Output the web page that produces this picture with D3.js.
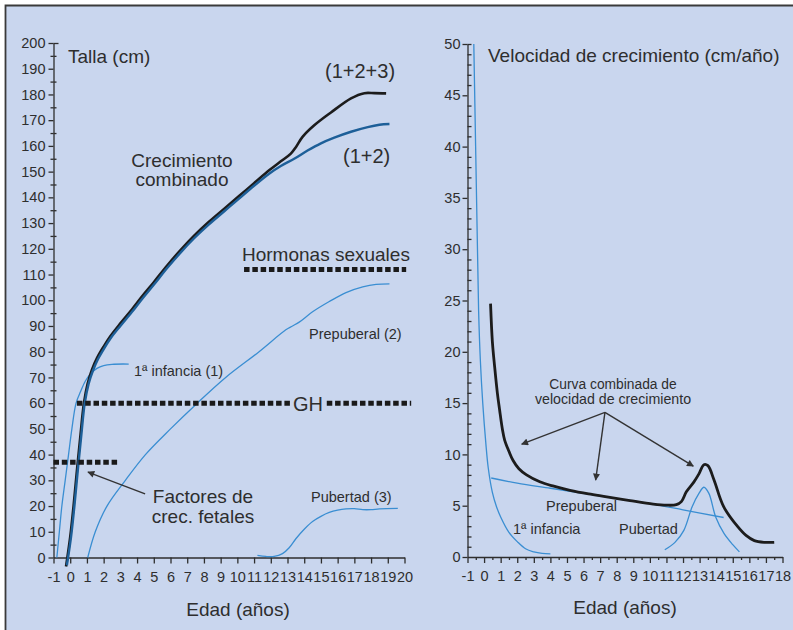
<!DOCTYPE html>
<html>
<head>
<meta charset="utf-8">
<script src="https://cdn.jsdelivr.net/npm/d3@7"></script>
<style>
  html, body { margin: 0; padding: 0; background: #ffffff; }
  svg { display: block; }
  text { font-family: "Liberation Sans", Arial, sans-serif; fill: #2e2e2e; }
</style>
</head>
<body>
<svg id="chart" width="793" height="630"></svg>
<script>
// ---------- tick values ----------
const heightAgeTicks = d3.range(-1, 21);        // Edad (años), left panel
const heightTicks = d3.range(0, 201, 10);       // Talla (cm)
const velAgeTicks = d3.range(-1, 19);           // Edad (años), right panel
const velTicks = d3.range(0, 51, 5);            // cm/año

// ---------- height curves: [edad, talla] ----------
const heightCombined123 = [
  [-0.25, -3.5], [0, 8], [0.2, 20], [0.42, 35], [0.62, 48], [0.82, 60], [1.04, 67.5],
  [1.3, 73], [1.6, 77.5], [2, 82], [2.4, 86], [3, 91], [3.7, 96.5], [4.3, 101.5],
  [5, 107], [5.8, 113.5], [6.6, 119.5], [7.4, 125], [8.3, 130.5], [9.2, 135.5],
  [10.1, 140.5], [11, 145.5], [11.9, 150.5], [12.6, 154], [13.2, 157], [13.5, 159.5],
  [13.9, 163.5], [14.6, 168], [15.6, 173], [16.8, 178.5], [17.6, 180.5], [18.2, 180.5],
  [18.9, 180.4]
];
const heightCombined12 = [
  [-0.2, -3], [0.05, 8], [0.25, 20], [0.47, 35], [0.67, 48], [0.87, 60], [1.1, 67.5],
  [1.35, 72.5], [1.65, 77], [2.05, 81.5], [2.45, 85.5], [3, 90], [3.7, 95.5], [4.3, 100.5],
  [5, 106], [5.8, 112.5], [6.6, 118.5], [7.4, 124], [8.3, 129.5], [9.2, 134.5],
  [10.1, 139.5], [11, 144.5], [11.9, 149.2], [12.6, 152.2], [13.4, 155], [14.2, 158.2],
  [15, 161], [15.8, 163.2], [16.8, 165.5], [17.8, 167.3], [18.5, 168.2], [19.1, 168.5]
];
const heightInfancy = [
  [-0.8, 0], [-0.65, 10], [-0.5, 20], [-0.3, 30], [-0.1, 40], [0.1, 50], [0.35, 60],
  [0.62, 64.5], [0.9, 68.5], [1.2, 71.3], [1.6, 73.5], [2, 74.6], [2.5, 75.1], [3.5, 75.2]
];
const heightPrepubertal = [
  [1.05, 0], [1.5, 10], [2.2, 20], [3.3, 30], [4.5, 40], [6, 50], [7.6, 60], [9.3, 70],
  [11.3, 80], [12.9, 88.5], [13.3, 90], [13.7, 91.5], [14.5, 95.5], [15.5, 99.5],
  [16.5, 103], [17.5, 105.2], [18.3, 106.2], [19.1, 106.4]
];
const heightPuberty = [
  [11.2, 0.8], [11.7, 0.4], [12.2, 0.4], [12.7, 1.5], [13.1, 3.8], [13.5, 7.3], [14, 11],
  [14.5, 14], [15, 16], [15.5, 17.5], [16, 18.4], [16.5, 18.9], [17, 19], [17.5, 18.6],
  [18, 18.6], [18.5, 18.9], [19.6, 19.1]
];

// ---------- hormonal influence levels: [desde, hasta, talla] ----------
const fetalFactorsLevel = [[-1, 2.95, 37]];
const ghLevel = [[0.4, 13.2, 60], [15.35, 20.4, 60]];
const sexHormonesLevel = [[10.4, 20.1, 112]];

// ---------- velocity curves: [edad, cm/año] ----------
const velInfancy = [
  [-0.62, 50], [-0.51, 40], [-0.41, 31], [-0.33, 24], [-0.22, 19], [-0.08, 15], [0.1, 11.2],
  [0.25, 8.7], [0.5, 6.3], [0.75, 4.9], [1, 3.9], [1.5, 2.4], [2, 1.5], [2.5, 0.8],
  [3, 0.5], [3.5, 0.35], [4, 0.3]
];
const velPrepubertal = [
  [0.43, 7.7], [2, 7.2], [4, 6.7], [6, 6.2], [8, 5.7], [10, 5.2], [12, 4.6], [14.45, 3.85]
];
const velPuberty = [
  [10.9, 0.7], [11.5, 1.4], [12.05, 2.6], [12.55, 4.9], [12.96, 6.2], [13.26, 6.8],
  [13.56, 6.2], [13.97, 3.9], [14.47, 2.3], [15, 1.2], [15.4, 0.5]
];
const velCombined = [
  [0.39, 24.7], [0.5, 21], [0.64, 18.5], [0.8, 16], [0.94, 14.3], [1.1, 12.5], [1.24, 11.4],
  [1.5, 10.3], [1.75, 9.4], [2.1, 8.6], [2.56, 8.0], [3.36, 7.33], [4.2, 6.9], [5.18, 6.5],
  [6.3, 6.15], [7.4, 5.87], [8.8, 5.5], [10.2, 5.16], [11, 5.05], [11.6, 5.1], [11.9, 5.4],
  [12.2, 6.35], [12.65, 7.3], [12.96, 8.1], [13.26, 9.0], [13.5, 8.9], [13.87, 7.5],
  [14.45, 4.9], [15.3, 2.95], [15.8, 2.1], [16.3, 1.6], [16.9, 1.43], [17.5, 1.43]
];

// ---------- drawing ----------
const svg = d3.select("#chart");
const INK = "#2e2e2e";
const DARK = "#1c1c1c";
const NAVY = "#1d5f98";
const SKY = "#3a8ed2";
const tickText = d => String(d);   // plain hyphen for negative ages

// panel background and frame
svg.append("rect").attr("x", 6).attr("y", 6).attr("width", 787).attr("height", 624).attr("fill", "#c9d6ee");
svg.append("path").attr("d", "M5.5,630V5.5H793").attr("fill", "none").attr("stroke", "#3a3a3a").attr("stroke-width", 1.8);

const defs = svg.append("defs");
defs.append("marker").attr("id", "arrow").attr("viewBox", "0 0 10 10")
  .attr("refX", 9).attr("refY", 5).attr("markerWidth", 9).attr("markerHeight", 7)
  .attr("markerUnits", "userSpaceOnUse").attr("orient", "auto")
  .append("path").attr("d", "M0,0L10,5L0,10Z").attr("fill", "#333");

const xL = d3.scaleLinear().domain([-1, 20]).range([53.5, 404.5]);
const yL = d3.scaleLinear().domain([0, 200]).range([557.5, 43]);
const xR = d3.scaleLinear().domain([-1, 18]).range([467.5, 782.5]);
const yR = d3.scaleLinear().domain([0, 50]).range([557, 44]);

function styleAxis(g) {
  g.selectAll("path, line").attr("stroke", INK).attr("stroke-width", 1.3);
  g.selectAll("text").attr("fill", INK).style("font-size", "14.5px")
    .style("font-family", "'Liberation Sans', Arial, sans-serif");
}

// ----- left panel axes -----
const gLx = svg.append("g").attr("transform", `translate(0,${yL(0)})`)
  .call(d3.axisBottom(xL).tickValues(heightAgeTicks).tickSize(6).tickSizeOuter(0).tickPadding(8).tickFormat(tickText));
styleAxis(gLx);

const gLy = svg.append("g").attr("transform", `translate(${xL(-1)},0)`)
  .call(d3.axisLeft(yL).tickValues(heightTicks).tickSize(5).tickSizeOuter(0).tickPadding(3).tickFormat(tickText));
styleAxis(gLy);
const heightMinor = d3.range(5, 200, 10);
[d3.axisLeft, d3.axisRight].forEach(ax => {
  const g = svg.append("g").attr("transform", `translate(${xL(-1)},0)`)
    .call(ax(yL).tickValues(heightMinor).tickSize(3).tickSizeOuter(0).tickFormat(""));
  g.select(".domain").remove();
  styleAxis(g);
});
const gLcap = svg.append("g").attr("transform", `translate(${xL(-1)},0)`)
  .call(d3.axisRight(yL).tickValues([200]).tickSize(5).tickSizeOuter(0).tickFormat(""));
gLcap.select(".domain").remove();
styleAxis(gLcap);

// ----- right panel axes -----
const gRx = svg.append("g").attr("transform", `translate(0,${yR(0)})`)
  .call(d3.axisBottom(xR).tickValues(velAgeTicks).tickSize(6).tickSizeOuter(0).tickPadding(8).tickFormat(tickText));
styleAxis(gRx);
const gRxMinor = svg.append("g").attr("transform", `translate(0,${yR(0)})`)
  .call(d3.axisBottom(xR).tickValues(d3.range(-0.5, 18, 1)).tickSize(3).tickSizeOuter(0).tickFormat(""));
gRxMinor.select(".domain").remove();
styleAxis(gRxMinor);

const gRy = svg.append("g").attr("transform", `translate(${xR(-1)},0)`)
  .call(d3.axisLeft(yR).tickValues(velTicks).tickSize(5).tickSizeOuter(0).tickPadding(2).tickFormat(tickText));
styleAxis(gRy);
const gRyMinor = svg.append("g").attr("transform", `translate(${xR(-1)},0)`)
  .call(d3.axisRight(yR).tickValues(d3.range(1, 51).filter(v => v % 5 !== 0 || v === 50)).tickSize(4).tickSizeOuter(0).tickFormat(""));
gRyMinor.select(".domain").remove();
styleAxis(gRyMinor);

// ----- curves -----
function drawCurve(data, xs, ys, color, width) {
  const line = d3.line().x(d => xs(d[0])).y(d => ys(d[1])).curve(d3.curveCatmullRom.alpha(0.5));
  svg.append("path").datum(data).attr("d", line).attr("fill", "none")
    .attr("stroke", color).attr("stroke-width", width)
    .attr("stroke-linejoin", "round").attr("stroke-linecap", "butt");
}

drawCurve(heightInfancy, xL, yL, SKY, 1.3);
drawCurve(heightPrepubertal, xL, yL, SKY, 1.3);
drawCurve(heightPuberty, xL, yL, SKY, 1.3);
drawCurve(heightCombined123, xL, yL, DARK, 2.6);
drawCurve(heightCombined12, xL, yL, NAVY, 2.4);

// hormonal influence levels as heavy square-dot lines
function drawLevels(levels) {
  levels.forEach(([a0, a1, v]) => {
    svg.append("line").attr("x1", xL(a0)).attr("x2", xL(a1)).attr("y1", yL(v)).attr("y2", yL(v))
      .attr("stroke", "#1a1a1a").attr("stroke-width", 5).attr("stroke-dasharray", "5.5,2.8");
  });
}
drawLevels(fetalFactorsLevel);
drawLevels(ghLevel);
drawLevels(sexHormonesLevel);

drawCurve(velInfancy, xR, yR, SKY, 1.3);
drawCurve(velPrepubertal, xR, yR, SKY, 1.3);
drawCurve(velPuberty, xR, yR, SKY, 1.3);
drawCurve(velCombined, xR, yR, DARK, 2.8);

// ----- annotation arrows -----
function arrow(x1, y1, x2, y2) {
  svg.append("line").attr("x1", x1).attr("y1", y1).attr("x2", x2).attr("y2", y2)
    .attr("stroke", "#333").attr("stroke-width", 1.4).attr("marker-end", "url(#arrow)");
}
arrow(xL(4.48), yL(24.7), xL(1.06), yL(33.2));
arrow(xR(7.29), yR(14.1), xR(2.27), yR(11.0));
arrow(xR(7.29), yR(14.1), xR(6.73), yR(7.5));
arrow(xR(7.29), yR(14.1), xR(12.62), yR(8.85));

// ----- text -----
function label(txt, x, y, size, anchor) {
  svg.append("text").attr("x", x).attr("y", y).attr("text-anchor", anchor || "start")
    .style("font-size", size + "px").text(txt);
}
label("Talla (cm)", 68, 63, 19);
label("(1+2+3)", 325, 78, 20);
label("(1+2)", 343, 163, 20);
label("Crecimiento", 182, 167, 19, "middle");
label("combinado", 182, 186, 19, "middle");
label("Hormonas sexuales", 242, 261, 19);
label("Prepuberal (2)", 309, 339, 14.5);
label("1ª infancia (1)", 134, 376, 14.5);
label("GH", 308, 411, 20, "middle");
label("Factores de", 203, 503, 19, "middle");
label("crec. fetales", 203, 523, 19, "middle");
label("Pubertad (3)", 311, 502, 14.5);
label("Edad (años)", 238, 616, 19, "middle");

label("Velocidad de crecimiento (cm/año)", 488, 62, 19);
label("Curva combinada de", 613, 389, 13.8, "middle");
label("velocidad de crecimiento", 613, 404, 14.2, "middle");
label("Prepuberal", 546, 511, 14.5);
label("1ª infancia", 513, 534, 14.5);
label("Pubertad", 619, 534, 14.5);
label("Edad (años)", 625, 614, 19, "middle");
</script>
</body>
</html>
